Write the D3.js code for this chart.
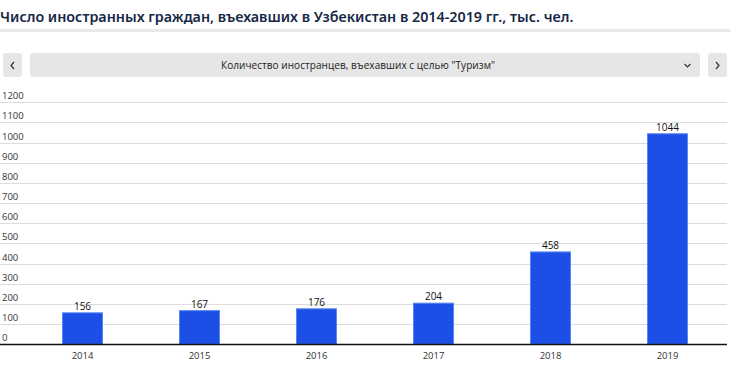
<!DOCTYPE html>
<html><head><meta charset="utf-8">
<script src="https://cdn.jsdelivr.net/npm/d3@7"></script>
<style>
body{margin:0;background:#fff;}
svg{display:block;font-family:"Open Sans",sans-serif;}
</style></head>
<body><svg id="c" width="730" height="369"></svg>
<script>
const title = "Число иностранных граждан, въехавших в Узбекистан в 2014-2019 гг., тыс. чел.";
const selectorLabel = "Количество иностранцев, въехавших с целью \"Туризм\"";
const years = ["2014","2015","2016","2017","2018","2019"];
const values = [156,167,176,204,458,1044];
const yTicks = [0,100,200,300,400,500,600,700,800,900,1000,1100,1200];

const svg = d3.select("#c");
svg.append("text").attr("x",0).attr("y",22).attr("font-size",14.3).attr("font-weight",600)
  .attr("fill","#152846").attr("font-family","'Noto Sans',sans-serif").text(title);
svg.append("rect").attr("x",0).attr("y",29).attr("width",730).attr("height",3).attr("fill","#e8e8e8");

// controls
svg.append("rect").attr("x",3).attr("y",53).attr("width",19).attr("height",24).attr("rx",3).attr("fill","#e6e6e6");
svg.append("rect").attr("x",30).attr("y",53).attr("width",670).attr("height",24).attr("rx",3).attr("fill","#e6e6e6");
svg.append("rect").attr("x",708).attr("y",53).attr("width",19).attr("height",24).attr("rx",3).attr("fill","#e6e6e6");
svg.append("path").attr("d","M14,62 L11,65.5 L14,69").attr("fill","none").attr("stroke","#333").attr("stroke-width",1.2);
svg.append("path").attr("d","M716,62 L719,65.5 L716,69").attr("fill","none").attr("stroke","#333").attr("stroke-width",1.2);
svg.append("path").attr("d","M684.5,64 L687.5,67 L690.5,64").attr("fill","none").attr("stroke","#333").attr("stroke-width",1.2);
svg.append("text").attr("x",358).attr("y",69).attr("text-anchor","middle").attr("font-size",10)
  .attr("fill","#222").attr("font-family","'Open Sans',sans-serif").attr("textLength",274).text(selectorLabel);

// chart
const y = d3.scaleLinear().domain([0,1200]).range([344.3,102.3]);
const x = d3.scaleBand().domain(years).range([24,726]).paddingInner(0.658).paddingOuter(0.329);

const grid = svg.append("g");
yTicks.forEach(t=>{
  if(t>0) grid.append("line").attr("x1",0).attr("x2",727).attr("y1",Math.round(y(t))+0.5).attr("y2",Math.round(y(t))+0.5)
    .attr("stroke","#dcdcdc").attr("stroke-width",1);
  grid.append("text").attr("x",2).attr("y",y(t)-3).attr("font-size",9.5).attr("fill","#333").text(t);
});

svg.append("g").selectAll("rect").data(values).join("rect")
  .attr("x",(d,i)=>x(years[i])).attr("width",x.bandwidth())
  .attr("y",d=>y(d)).attr("height",d=>y(0)-y(d))
  .attr("fill","#1b4fe6").attr("stroke","#5a86f3").attr("stroke-width",1);

svg.append("g").selectAll("text").data(values).join("text")
  .attr("x",(d,i)=>x(years[i])+x.bandwidth()/2).attr("y",d=>y(d)-3)
  .attr("text-anchor","middle").attr("font-size",10).attr("fill","#111").text(d=>d);

const xa = svg.append("g").attr("transform","translate(0,344.5)")
  .call(d3.axisBottom(x).tickSize(0).tickPadding(8));
xa.select(".domain").remove();
xa.selectAll("text").attr("font-size",9.5).attr("fill","#333").attr("font-family","'Open Sans',sans-serif");
svg.append("line").attr("x1",0).attr("x2",727).attr("y1",344.5).attr("y2",344.5).attr("stroke","#111").attr("stroke-width",1.5);
</script></body></html>
